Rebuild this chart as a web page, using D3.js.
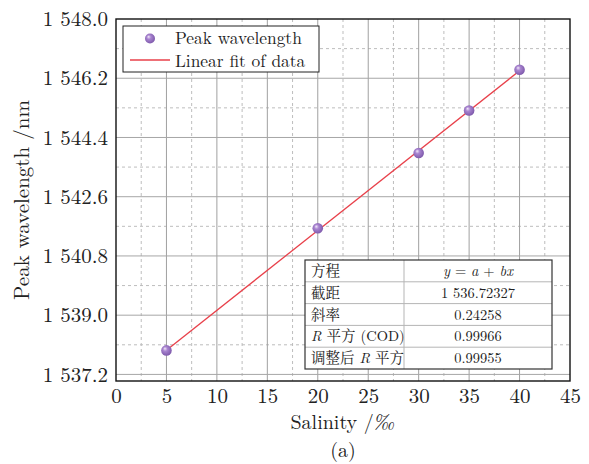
<!DOCTYPE html>
<html><head><meta charset="utf-8">
<script src="https://cdn.jsdelivr.net/npm/d3@7"></script>
<style>
html,body{margin:0;padding:0;background:#fff;}
svg{display:block;}
</style>
</head><body>
<script>
// ---- data ----
const salinity = [5, 20, 30, 35, 40];
const peakWavelength = [1537.93, 1541.64, 1543.93, 1545.22, 1546.46];
const fitIntercept = 1536.72327;
const fitSlope = 0.24258;
const xTicks = [0, 5, 10, 15, 20, 25, 30, 35, 40, 45];
const yTicks = [1537.2, 1539.0, 1540.8, 1542.6, 1544.4, 1546.2, 1548.0];
const tableLabels = ["方程", "截距", "斜率", "R 平方 (COD)", "调整后 R 平方"];
const tableValues = ["y = a + bx", "1 536.72327", "0.24258", "0.99966", "0.99955"];
const legendLabels = ["Peak wavelength", "Linear fit of data"];

const W = 589, H = 464;
const m = {left: 116, right: 570, top: 19, bottom: 381};
const serif = '"Latin Modern Roman", "Liberation Serif", monospace';
const cjk = '"Noto Serif CJK SC", "Noto Sans CJK SC", monospace';

const svg = d3.select("body").append("svg").attr("width", W).attr("height", H);
const x = d3.scaleLinear().domain([0, 45]).range([m.left, m.right]);
const y = d3.scaleLinear().domain([1537.0, 1548.0]).range([m.bottom, m.top]);

const defs = svg.append("defs");
const grad = defs.append("radialGradient").attr("id", "sph").attr("cx", "45%").attr("cy", "45%").attr("r", "60%").attr("fx", "35%").attr("fy", "32%");
grad.append("stop").attr("offset", "0%").attr("stop-color", "#f2e8fa");
grad.append("stop").attr("offset", "35%").attr("stop-color", "#a985d0");
grad.append("stop").attr("offset", "100%").attr("stop-color", "#7a55a8");

// grid: minor dashed
const g = svg.append("g");
const xMinor = d3.range(2.5, 45, 5);
const yMinor = yTicks.slice(0, -1).map(v => v + 0.9);
g.selectAll(".xm").data(xMinor).join("line")
  .attr("x1", d => x(d)).attr("x2", d => x(d)).attr("y1", m.top).attr("y2", m.bottom)
  .attr("stroke", "#bdbdbd").attr("stroke-width", 1).attr("stroke-dasharray", "3,3");
g.selectAll(".ym").data(yMinor).join("line")
  .attr("y1", d => y(d)).attr("y2", d => y(d)).attr("x1", m.left).attr("x2", m.right)
  .attr("stroke", "#bdbdbd").attr("stroke-width", 1).attr("stroke-dasharray", "3,3");
// major solid
g.selectAll(".xM").data(xTicks.slice(1, -1)).join("line")
  .attr("x1", d => x(d)).attr("x2", d => x(d)).attr("y1", m.top).attr("y2", m.bottom)
  .attr("stroke", "#a0a0a0").attr("stroke-width", 1);
g.selectAll(".yM").data(yTicks.slice(0, -1)).join("line")
  .attr("y1", d => y(d)).attr("y2", d => y(d)).attr("x1", m.left).attr("x2", m.right)
  .attr("stroke", "#a6a6a6").attr("stroke-width", 1);

// axes
const loc = d3.formatLocale({decimal: ".", thousands: " ", grouping: [3], currency: ["", ""]});
const yFmt = loc.format(",.1f");
const xAxis = d3.axisBottom(x).tickValues(xTicks).tickSize(0).tickPadding(7).tickFormat(d3.format("d"));
const yAxis = d3.axisLeft(y).tickValues(yTicks).tickSize(0).tickPadding(8).tickFormat(yFmt);
const gx = svg.append("g").attr("transform", `translate(0,${m.bottom})`).call(xAxis);
const gy = svg.append("g").attr("transform", `translate(${m.left},0)`).call(yAxis);
[gx, gy].forEach(a => {
  a.attr("font-family", null).attr("font-size", null);
  a.select(".domain").remove();
  a.selectAll("text").style("font-family", serif).style("font-size", "21px").attr("fill", "#222");
});

// frame
svg.append("rect").attr("x", m.left).attr("y", m.top).attr("width", m.right - m.left).attr("height", m.bottom - m.top)
  .attr("fill", "none").attr("stroke", "#111").attr("stroke-width", 1.4);

// fit line
const fitX = [d3.min(salinity), d3.max(salinity)];
svg.append("line")
  .attr("x1", x(fitX[0])).attr("y1", y(fitIntercept + fitSlope * fitX[0]))
  .attr("x2", x(fitX[1])).attr("y2", y(fitIntercept + fitSlope * fitX[1]))
  .attr("stroke", "#e8404a").attr("stroke-width", 1.3);

// points
svg.selectAll(".pt").data(salinity).join("circle")
  .attr("cx", d => x(d)).attr("cy", (d, i) => y(peakWavelength[i])).attr("r", 5.3)
  .attr("fill", "url(#sph)");

// legend
const lg = svg.append("g");
lg.append("rect").attr("x", 123).attr("y", 26).attr("width", 196).attr("height", 46)
  .attr("fill", "#fff").attr("stroke", "#222").attr("stroke-width", 1);
lg.append("circle").attr("cx", 150).attr("cy", 38.5).attr("r", 5).attr("fill", "url(#sph)");
lg.append("line").attr("x1", 130).attr("x2", 170).attr("y1", 60).attr("y2", 60).attr("stroke", "#e8404a").attr("stroke-width", 1.3);
lg.selectAll(".lt").data(legendLabels).join("text")
  .attr("x", 175).attr("y", (d, i) => 44 + i * 22.5)
  .style("font-family", serif).style("font-size", "17.4px").attr("fill", "#222")
  .text(d => d);

// table
const tb = svg.append("g");
const tx0 = 305, tx1 = 404, tx2 = 552, ty0 = 260, rowH = 21.8;
tb.append("rect").attr("x", tx0).attr("y", ty0).attr("width", tx2 - tx0).attr("height", rowH * 5).attr("fill", "#fff");
tb.selectAll(".rl").data(d3.range(1, 5)).join("line")
  .attr("x1", tx0).attr("x2", tx2).attr("y1", d => ty0 + d * rowH).attr("y2", d => ty0 + d * rowH)
  .attr("stroke", "#b5b5b5").attr("stroke-width", 1);
tb.append("line").attr("x1", tx1).attr("x2", tx1).attr("y1", ty0).attr("y2", ty0 + rowH * 5).attr("stroke", "#b5b5b5");
tb.append("rect").attr("x", tx0).attr("y", ty0).attr("width", tx2 - tx0).attr("height", rowH * 5)
  .attr("fill", "none").attr("stroke", "#333").attr("stroke-width", 1.2);

function labelText(sel, s) {
  const parts = s.split(" ");
  parts.forEach((p, k) => {
    const t = sel.append("tspan").attr("dx", k === 0 ? 0 : 5);
    if (p === "R") t.style("font-family", serif).style("font-style", "italic").text("R");
    else if (/[\u4e00-\u9fff]/.test(p)) t.style("font-family", cjk).text(p);
    else t.style("font-family", serif).text(p);
  });
}
tableLabels.forEach((s, i) => {
  const t = tb.append("text").attr("x", 311).attr("y", ty0 + i * rowH + rowH / 2 + 5)
    .style("font-size", "14.5px").style("font-family", serif).attr("fill", "#222");
  labelText(t, s);
});
tableValues.forEach((s, i) => {
  const t = tb.append("text").attr("x", (tx1 + tx2) / 2).attr("y", ty0 + i * rowH + rowH / 2 + 5)
    .style("font-size", "14.5px").attr("fill", "#222").attr("text-anchor", "middle").style("font-family", serif);
  if (i === 0) {
    t.append("tspan").style("font-style", "italic").text("y");
    t.append("tspan").text(" = ");
    t.append("tspan").style("font-style", "italic").text("a");
    t.append("tspan").text(" + ");
    t.append("tspan").style("font-style", "italic").text("bx");
  } else t.text(s);
});

// axis titles
svg.append("text").attr("x", (m.left + m.right) / 2).attr("y", 429).attr("text-anchor", "middle")
  .style("font-family", serif).style("font-size", "20px").attr("fill", "#222")
  .call(t => { t.append("tspan").text("Salinity /"); t.append("tspan").style("font-style", "italic").text("‰"); });
svg.append("text").attr("transform", `translate(29,${(m.top + m.bottom) / 2}) rotate(-90)`).attr("text-anchor", "middle")
  .style("font-family", serif).style("font-size", "21px").attr("fill", "#222").text("Peak wavelength /nm");
svg.append("text").attr("x", (m.left + m.right) / 2).attr("y", 457).attr("text-anchor", "middle")
  .style("font-family", serif).style("font-size", "20px").attr("fill", "#222").text("(a)");
</script>
</body></html>
